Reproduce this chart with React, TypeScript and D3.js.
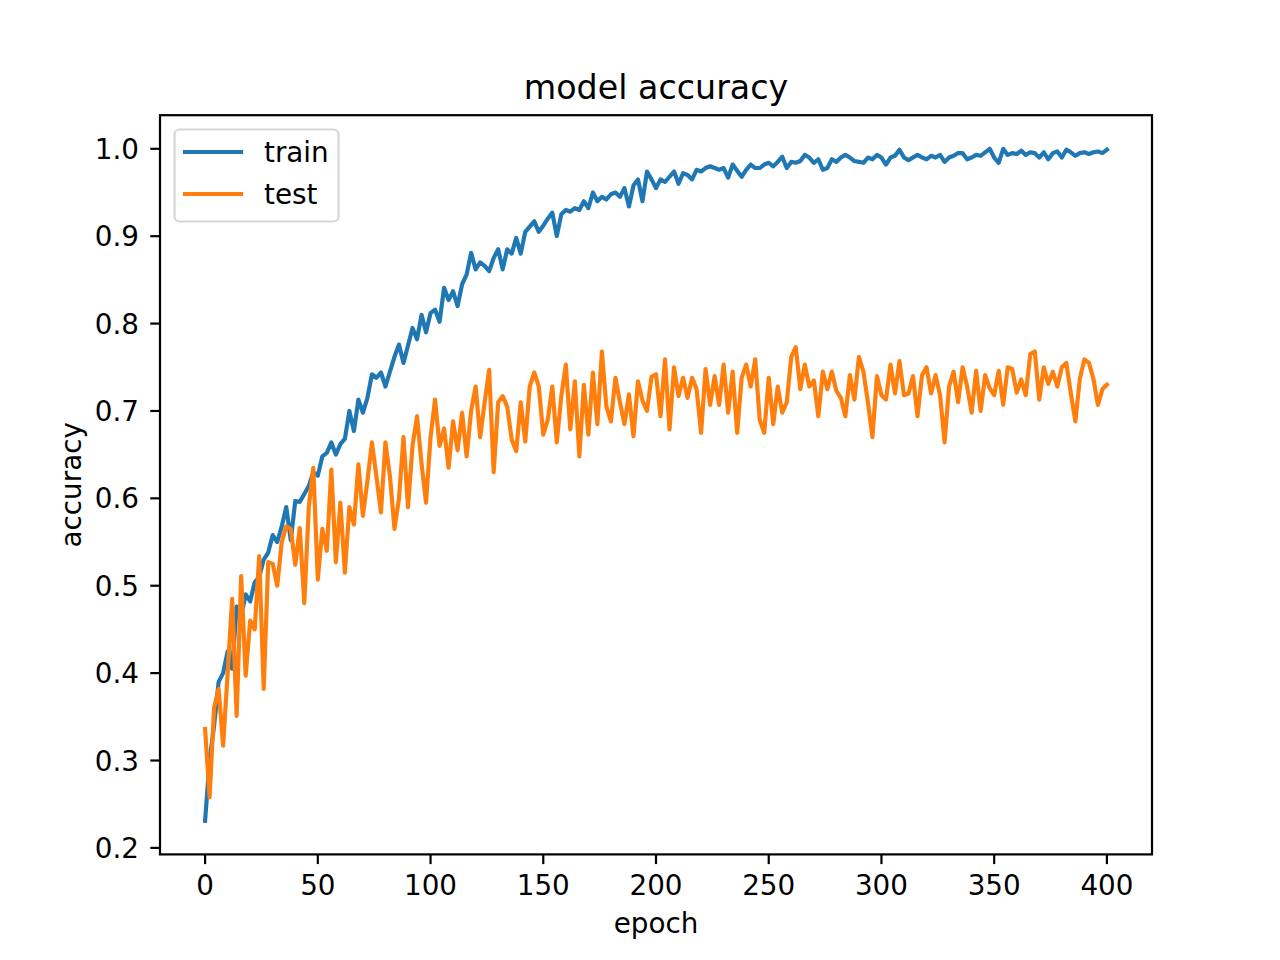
import { useRef, useEffect } from "react";
import * as d3 from "d3";

const EPOCH_STEP = 2;

const trainAcc = [
  0.231, 0.300, 0.340, 0.390, 0.400, 0.425, 0.405, 0.476, 0.465, 0.490,
  0.482, 0.504, 0.510, 0.530, 0.538, 0.558, 0.550, 0.568, 0.590, 0.552,
  0.597, 0.596, 0.605, 0.614, 0.630, 0.626, 0.648, 0.652, 0.664, 0.650,
  0.662, 0.668, 0.700, 0.677, 0.713, 0.698, 0.715, 0.742, 0.738, 0.744,
  0.728, 0.745, 0.762, 0.776, 0.755, 0.775, 0.795, 0.782, 0.810, 0.790,
  0.812, 0.816, 0.802, 0.841, 0.827, 0.837, 0.820, 0.845, 0.856, 0.881,
  0.862, 0.870, 0.866, 0.860, 0.875, 0.885, 0.862, 0.885, 0.880, 0.898,
  0.880, 0.905, 0.911, 0.917, 0.905, 0.912, 0.920, 0.927, 0.900, 0.925,
  0.930, 0.928, 0.932, 0.930, 0.940, 0.932, 0.950, 0.940, 0.945, 0.942,
  0.948, 0.950, 0.945, 0.955, 0.934, 0.958, 0.965, 0.940, 0.974, 0.965,
  0.955, 0.965, 0.962, 0.968, 0.974, 0.960, 0.972, 0.970, 0.965, 0.976,
  0.974, 0.978, 0.980, 0.978, 0.976, 0.978, 0.967, 0.982, 0.975, 0.968,
  0.976, 0.982, 0.978, 0.978, 0.982, 0.984, 0.980, 0.985, 0.991, 0.978,
  0.985, 0.984, 0.986, 0.993, 0.990, 0.984, 0.988, 0.976, 0.978, 0.988,
  0.985, 0.990, 0.993, 0.990, 0.986, 0.985, 0.984, 0.990, 0.988, 0.993,
  0.990, 0.982, 0.990, 0.992, 0.999, 0.990, 0.987, 0.990, 0.993, 0.990,
  0.988, 0.992, 0.990, 0.993, 0.985, 0.990, 0.992, 0.995, 0.995, 0.988,
  0.990, 0.993, 0.992, 0.996, 1.000, 0.990, 0.984, 1.000, 0.993, 0.995,
  0.994, 0.998, 0.993, 0.996, 0.995, 0.990, 0.996, 0.988, 0.995, 0.997,
  0.990, 0.999, 0.996, 0.992, 0.995, 0.996, 0.994, 0.996, 0.997, 0.995,
  0.999,
];

const testAcc = [
  0.336, 0.258, 0.360, 0.382, 0.317, 0.400, 0.485, 0.351, 0.511, 0.397,
  0.460, 0.450, 0.534, 0.382, 0.527, 0.525, 0.500, 0.550, 0.568, 0.565,
  0.524, 0.566, 0.480, 0.590, 0.635, 0.507, 0.565, 0.540, 0.633, 0.527,
  0.595, 0.515, 0.590, 0.570, 0.639, 0.580, 0.620, 0.664, 0.625, 0.584,
  0.664, 0.625, 0.565, 0.600, 0.670, 0.590, 0.660, 0.694, 0.640, 0.595,
  0.670, 0.713, 0.660, 0.680, 0.635, 0.688, 0.655, 0.698, 0.648, 0.700,
  0.728, 0.670, 0.710, 0.747, 0.630, 0.710, 0.717, 0.705, 0.667, 0.654,
  0.710, 0.665, 0.728, 0.744, 0.728, 0.673, 0.690, 0.728, 0.664, 0.717,
  0.753, 0.679, 0.734, 0.648, 0.730, 0.673, 0.744, 0.685, 0.768, 0.705,
  0.688, 0.738, 0.710, 0.685, 0.719, 0.671, 0.734, 0.712, 0.700, 0.739,
  0.742, 0.694, 0.759, 0.679, 0.750, 0.717, 0.738, 0.715, 0.738, 0.725,
  0.675, 0.748, 0.707, 0.740, 0.707, 0.753, 0.698, 0.745, 0.675, 0.738,
  0.753, 0.728, 0.759, 0.690, 0.675, 0.738, 0.685, 0.728, 0.698, 0.710,
  0.762, 0.773, 0.725, 0.753, 0.728, 0.735, 0.694, 0.745, 0.725, 0.745,
  0.723, 0.715, 0.694, 0.741, 0.713, 0.762, 0.745, 0.710, 0.670, 0.740,
  0.718, 0.713, 0.753, 0.720, 0.757, 0.718, 0.720, 0.740, 0.694, 0.741,
  0.750, 0.720, 0.741, 0.718, 0.664, 0.728, 0.745, 0.710, 0.750, 0.728,
  0.698, 0.746, 0.700, 0.741, 0.726, 0.718, 0.746, 0.707, 0.750, 0.748,
  0.721, 0.736, 0.718, 0.765, 0.768, 0.713, 0.750, 0.731, 0.745, 0.728,
  0.750, 0.755, 0.720, 0.688, 0.737, 0.759, 0.755, 0.737, 0.707, 0.725,
  0.730,
];

const xTicks = [0, 50, 100, 150, 200, 250, 300, 350, 400];
const yTicks = [0.2, 0.3, 0.4, 0.5, 0.6, 0.7, 0.8, 0.9, 1.0];

const seriesNames = ["train", "test"];
const seriesColors = ["#1f77b4", "#ff7f0e"];

const WIDTH = 1280;
const HEIGHT = 960;
const FONT = "DejaVu Sans, sans-serif";

const AccuracyChart = () => {
  const svgRef = useRef(null);

  useEffect(() => {
    const svg = d3.select(svgRef.current);
    svg.selectAll("*").remove();

    // axes box, same fractions as a default matplotlib figure
    const left = 160;
    const right = 1152;
    const top = 115.2;
    const bottom = 854.4;

    const series = [trainAcc, testAcc];
    const lastEpoch = (trainAcc.length - 1) * EPOCH_STEP;

    // 5% padding on both axes like matplotlib autoscale
    const xPad = lastEpoch * 0.05;
    const x = d3.scaleLinear().domain([-xPad, lastEpoch + xPad]).range([left, right]);

    const allValues = trainAcc.concat(testAcc);
    const [yMin, yMax] = d3.extent(allValues);
    const yPad = (yMax - yMin) * 0.05;
    const y = d3.scaleLinear().domain([yMin - yPad, yMax + yPad]).range([bottom, top]);

    svg.append("rect").attr("width", WIDTH).attr("height", HEIGHT).attr("fill", "#fff");

    const line = d3
      .line()
      // @ts-ignore
      .x((d, i) => x(i * EPOCH_STEP))
      // @ts-ignore
      .y((d) => y(d));

    series.forEach((values, k) => {
      svg
        .append("path")
        .datum(values)
        // @ts-ignore
        .attr("d", line)
        .attr("fill", "none")
        .attr("stroke", seriesColors[k])
        .attr("stroke-width", 4.17)
        .attr("stroke-linejoin", "round")
        .attr("stroke-linecap", "square");
    });

    // spines
    svg
      .append("rect")
      .attr("x", left)
      .attr("y", top)
      .attr("width", right - left)
      .attr("height", bottom - top)
      .attr("fill", "none")
      .attr("stroke", "#000")
      .attr("stroke-width", 2.2);

    // x ticks
    const xg = svg.append("g");
    xTicks.forEach((t) => {
      xg.append("line")
        .attr("x1", x(t))
        .attr("x2", x(t))
        .attr("y1", bottom)
        .attr("y2", bottom + 9.7)
        .attr("stroke", "#000")
        .attr("stroke-width", 2.2);
      xg.append("text")
        .attr("x", x(t))
        .attr("y", bottom + 41)
        .attr("text-anchor", "middle")
        .attr("font-family", FONT)
        .attr("font-size", 27.8)
        .text(String(t));
    });

    // y ticks
    const yg = svg.append("g");
    yTicks.forEach((t) => {
      yg.append("line")
        .attr("x1", left)
        .attr("x2", left - 9.7)
        .attr("y1", y(t))
        .attr("y2", y(t))
        .attr("stroke", "#000")
        .attr("stroke-width", 2.2);
      yg.append("text")
        .attr("x", left - 21)
        .attr("y", y(t) + 10)
        .attr("text-anchor", "end")
        .attr("font-family", FONT)
        .attr("font-size", 27.8)
        .text(t.toFixed(1));
    });

    // title and axis labels
    svg
      .append("text")
      .attr("x", (left + right) / 2)
      .attr("y", top - 16.7)
      .attr("text-anchor", "middle")
      .attr("font-family", FONT)
      .attr("font-size", 33.3)
      .text("model accuracy");

    svg
      .append("text")
      .attr("x", (left + right) / 2)
      .attr("y", 933)
      .attr("text-anchor", "middle")
      .attr("font-family", FONT)
      .attr("font-size", 27.8)
      .text("epoch");

    svg
      .append("text")
      .attr("transform", `translate(81,${(top + bottom) / 2}) rotate(-90)`)
      .attr("text-anchor", "middle")
      .attr("font-family", FONT)
      .attr("font-size", 27.8)
      .text("accuracy");

    // legend
    const legend = svg.append("g");
    legend
      .append("rect")
      .attr("x", 174.5)
      .attr("y", 129.5)
      .attr("width", 164)
      .attr("height", 92)
      .attr("rx", 5)
      .attr("fill", "#fff")
      .attr("fill-opacity", 0.8)
      .attr("stroke", "#cccccc")
      .attr("stroke-opacity", 0.8)
      .attr("stroke-width", 2.2);

    seriesNames.forEach((name, k) => {
      const ly = 152 + k * 42;
      legend
        .append("line")
        .attr("x1", 185)
        .attr("x2", 241)
        .attr("y1", ly)
        .attr("y2", ly)
        .attr("stroke", seriesColors[k])
        .attr("stroke-width", 4.17)
        .attr("stroke-linecap", "square");
      legend
        .append("text")
        .attr("x", 264)
        .attr("y", ly + 10)
        .attr("font-family", FONT)
        .attr("font-size", 27.8)
        .text(name);
    });
  }, []);

  return (
    <svg
      ref={svgRef}
      width={WIDTH}
      height={HEIGHT}
      style={{ position: "absolute", left: 0, top: 0 }}
    ></svg>
  );
};

export default function App() {
  return <AccuracyChart />;
}
